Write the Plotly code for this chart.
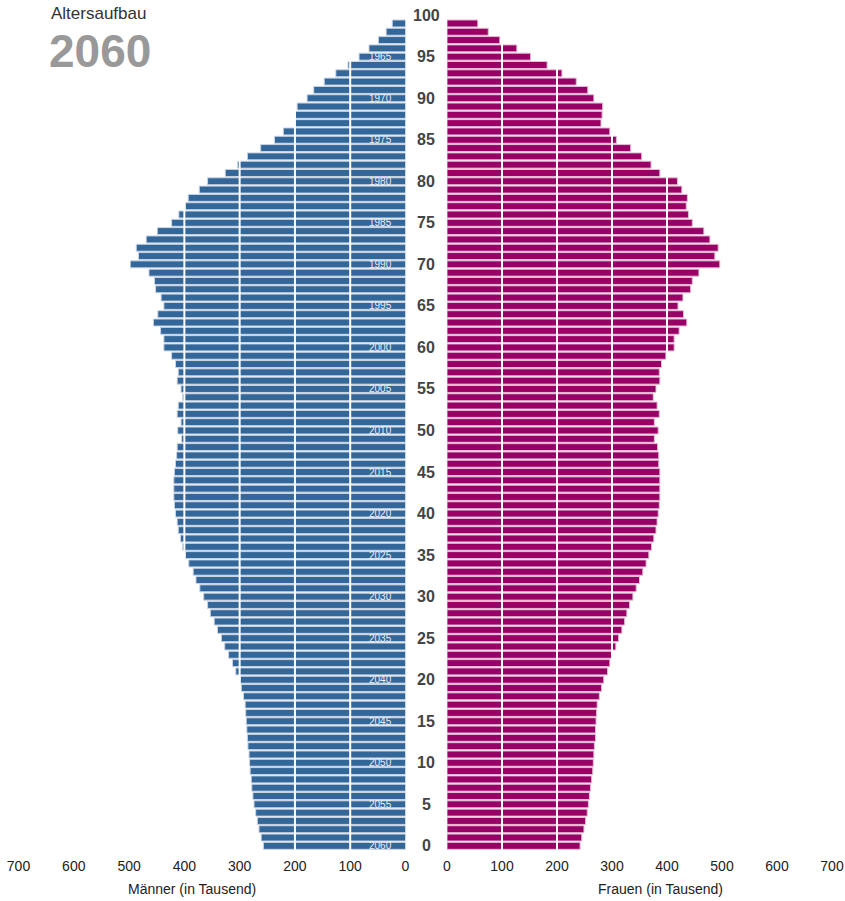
import plotly.graph_objects as go

# ---------------- data ----------------
ages = list(range(0, 100))
men = [257, 261, 265, 268, 271, 274, 276, 278, 279, 281,
       282, 283, 285, 286, 287, 288, 289, 290, 293, 297,
       299, 307, 313, 320, 327, 333, 340, 346, 353, 358,
       365, 372, 379, 384, 392, 398, 403, 407, 411, 413,
       416, 418, 419, 419, 419, 418, 416, 414, 413, 405,
       412, 406, 413, 411, 403, 406, 413, 411, 416, 423,
       437, 437, 443, 456, 448, 437, 442, 452, 454, 464,
       498, 483, 487, 469, 449, 423, 410, 398, 393, 373,
       358, 326, 304, 286, 262, 237, 221, 200, 199, 196,
       178, 166, 147, 126, 104, 84, 66, 49, 35, 24]
women = [242, 245, 249, 252, 255, 257, 259, 261, 263, 265,
         266, 267, 268, 270, 270, 271, 272, 273, 277, 281,
         285, 292, 296, 301, 307, 312, 318, 323, 327, 332,
         338, 344, 350, 356, 362, 367, 372, 376, 380, 382,
         384, 386, 387, 387, 387, 387, 385, 385, 383, 377,
         384, 377, 386, 382, 375, 380, 387, 386, 390, 398,
         413, 413, 422, 436, 430, 420, 429, 443, 446, 458,
         496, 487, 493, 478, 467, 446, 439, 435, 437, 427,
         419, 387, 371, 354, 334, 308, 296, 280, 282, 283,
         267, 256, 235, 209, 182, 152, 127, 96, 75, 56]
age_ticks = list(range(0, 101, 5))
year_label_ages = list(range(0, 100, 5))
base_year = 2060
x_ticks = [0, 100, 200, 300, 400, 500, 600, 700]
grid_vals = [100, 200, 300, 400, 500, 600]

# ---------------- styles ----------------
W, H = 845, 901
MEN_COL = "#336699"
WOMEN_COL = "#990066"
FONT = "Liberation Sans, Arial, sans-serif"

fig = go.Figure()
fig.add_trace(go.Bar(
    x=men, y=ages, orientation="h", xaxis="x", yaxis="y",
    marker=dict(color=MEN_COL, line=dict(color="#c9d4e4", width=1)),
    hoverinfo="x+y", showlegend=False, name="Männer"))
fig.add_trace(go.Bar(
    x=women, y=ages, orientation="h", xaxis="x2", yaxis="y2",
    marker=dict(color=WOMEN_COL, line=dict(color="#e6bcd6", width=1)),
    hoverinfo="x+y", showlegend=False, name="Frauen"))

top_px, bottom_px = 11, 51
plot_h = H - top_px - bottom_px


def py(px):
    """pixel y (from top) -> paper y"""
    return (H - bottom_px - px) / plot_h


def pxx(px):
    return px / W


axis_common = dict(showgrid=False, zeroline=False, showline=False, ticks="",
                   automargin=False, ticklabelstandoff=6,
                   tickvals=x_ticks, ticktext=[str(v) for v in x_ticks],
                   tickfont=dict(family=FONT, size=14, color="#222"),
                   fixedrange=True)

fig.update_layout(
    width=W, height=H, autosize=False,
    margin=dict(l=0, r=0, t=top_px, b=bottom_px, pad=0, autoexpand=False),
    paper_bgcolor="white", plot_bgcolor="white",
    bargap=0.16,
    xaxis=dict(domain=[pxx(18.5), pxx(405.5)], range=[700, 0], anchor="y", **axis_common),
    xaxis2=dict(domain=[pxx(447), pxx(832)], range=[0, 700], anchor="y2", **axis_common),
    yaxis=dict(range=[-0.5, 100.5], visible=False, anchor="x", fixedrange=True, automargin=False),
    yaxis2=dict(range=[-0.5, 100.5], visible=False, anchor="x2", fixedrange=True, automargin=False),
    font=dict(family=FONT),
)

shapes = []
for v in grid_vals:
    shapes.append(dict(type="line", xref="x", yref="y", x0=v, x1=v, y0=-0.5, y1=99.5,
                       line=dict(color="white", width=2), layer="above"))
    shapes.append(dict(type="line", xref="x2", yref="y2", x0=v, x1=v, y0=-0.5, y1=99.5,
                       line=dict(color="white", width=2), layer="above"))
fig.update_layout(shapes=shapes)

ann = []
for a in age_ticks:
    ann.append(dict(x=pxx(426), xref="paper", y=a, yref="y", text=f"<b>{a}</b>",
                    showarrow=False, xanchor="center", yanchor="middle",
                    font=dict(family=FONT, size=16, color="#444")))
for a in year_label_ages:
    ann.append(dict(x=pxx(380), xref="paper", y=a, yref="y", text=str(base_year - a),
                    showarrow=False, xanchor="center", yanchor="middle",
                    font=dict(family=FONT, size=10, color="#e8eef6")))
ann.append(dict(x=pxx(192), xref="paper", y=py(889), yref="paper", text="Männer (in Tausend)",
                showarrow=False, xanchor="center", yanchor="middle",
                font=dict(family=FONT, size=14, color="#222")))
ann.append(dict(x=pxx(660), xref="paper", y=py(889), yref="paper", text="Frauen (in Tausend)",
                showarrow=False, xanchor="center", yanchor="middle",
                font=dict(family=FONT, size=14, color="#222")))
ann.append(dict(x=pxx(49), xref="paper", y=py(14), yref="paper", text="Altersaufbau",
                showarrow=False, xanchor="left", yanchor="middle",
                font=dict(family=FONT, size=17, color="#333")))
ann.append(dict(x=pxx(47), xref="paper", y=py(51), yref="paper", text="<b>2060</b>",
                showarrow=False, xanchor="left", yanchor="middle",
                font=dict(family=FONT, size=46, color="#999999")))
fig.update_layout(annotations=ann)

fig.write_html(
    "out.html",
    config={"displayModeBar": False},
    post_script="document.documentElement.style.margin='0';"
                "document.body.style.margin='0';document.body.style.padding='0';"
                "document.body.style.overflow='hidden';",
)
